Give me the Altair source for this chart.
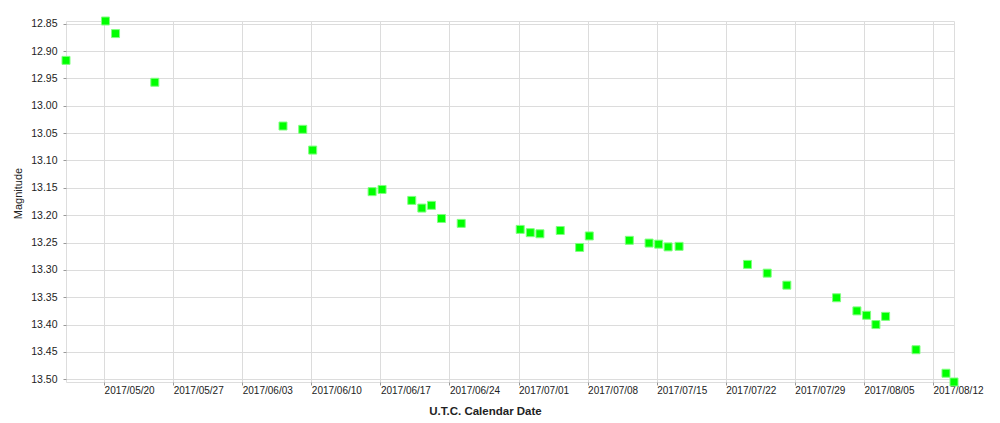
import altair as alt
import pandas as pd

dates = [
    "2017-05-16T03:20:00Z", "2017-05-20T03:20:00Z", "2017-05-21T03:50:00Z", "2017-05-25T03:20:00Z",
    "2017-06-07T03:10:00Z", "2017-06-09T03:10:00Z", "2017-06-10T03:20:00Z", "2017-06-16T03:50:00Z",
    "2017-06-17T04:05:00Z", "2017-06-20T04:20:00Z", "2017-06-21T04:50:00Z", "2017-06-22T04:20:00Z",
    "2017-06-23T04:35:00Z", "2017-06-25T04:35:00Z", "2017-07-01T04:05:00Z", "2017-07-02T04:35:00Z",
    "2017-07-03T04:05:00Z", "2017-07-05T05:30:00Z", "2017-07-07T04:35:00Z", "2017-07-08T04:05:00Z",
    "2017-07-12T05:30:00Z", "2017-07-14T05:30:00Z", "2017-07-15T04:50:00Z", "2017-07-16T03:50:00Z",
    "2017-07-17T06:30:00Z", "2017-07-24T04:50:00Z", "2017-07-26T04:50:00Z", "2017-07-28T04:35:00Z",
    "2017-08-02T05:30:00Z", "2017-08-04T07:00:00Z", "2017-08-05T06:30:00Z", "2017-08-06T05:15:00Z",
    "2017-08-07T04:50:00Z", "2017-08-10T06:45:00Z", "2017-08-13T07:40:00Z", "2017-08-14T03:10:00Z",
]
magnitudes = [
    12.917, 12.845, 12.868, 12.957,
    13.037, 13.043, 13.081, 13.157,
    13.153, 13.173, 13.187, 13.182,
    13.206, 13.215, 13.226, 13.232,
    13.234, 13.228, 13.259, 13.238,
    13.246, 13.251, 13.253, 13.258,
    13.257, 13.290, 13.306, 13.328,
    13.351, 13.375, 13.383, 13.400,
    13.385, 13.446, 13.489, 13.505,
]

# Axis tick values
x_tick_days = [(5, 20), (5, 27), (6, 3), (6, 10), (6, 17), (6, 24), (7, 1),
               (7, 8), (7, 15), (7, 22), (7, 29), (8, 5), (8, 12)]
y_ticks = [12.85, 12.90, 12.95, 13.00, 13.05, 13.10, 13.15, 13.20,
           13.25, 13.30, 13.35, 13.40, 13.45, 13.50]
y_domain = [12.845, 13.505]

df = pd.DataFrame({"date": dates, "mag": magnitudes})

FONT = "Liberation Sans"

x_values = [alt.DateTime(year=2017, month=m, date=d, utc=True) for m, d in x_tick_days]

chart = alt.Chart(df).mark_square(
    size=64, filled=True, fill="#00ff00", stroke="#80ff80", strokeWidth=1, opacity=1
).encode(
    x=alt.X(
        "date:T",
        scale=alt.Scale(type="utc", nice=False),
        axis=alt.Axis(
            values=x_values,
            format="%Y/%m/%d",
            formatType="time",
            title="U.T.C. Calendar Date",
            labelAlign="left",
            labelBaseline="top",
            labelFont=FONT,
            labelFontSize=10,
            labelColor="#222222",
            labelPadding=0,
            labelOverlap=False,
            labelFlush=False,
            tickSize=3,
            tickColor="#999999",
            domain=False,
            grid=True,
            gridColor="#dcdcdc",
            gridWidth=1,
            titleFont=FONT,
            titleFontSize=11.5,
            titleFontWeight="bold",
            titleColor="#222222",
            titleAlign="center",
            titleBaseline="alphabetic",
            titleX=419,
            titleY=32,
        ),
    ),
    y=alt.Y(
        "mag:Q",
        scale=alt.Scale(domain=y_domain, reverse=True, nice=False, zero=False),
        axis=alt.Axis(
            values=y_ticks,
            format=".2f",
            title="Magnitude",
            labelFont=FONT,
            labelFontSize=10.5,
            labelColor="#222222",
            labelPadding=6,
            tickSize=3,
            tickColor="#999999",
            domain=False,
            grid=True,
            gridColor="#dcdcdc",
            gridWidth=1,
            titleFont=FONT,
            titleFontSize=11,
            titleFontWeight="normal",
            titleColor="#222222",
            titleAngle=270,
            titleAlign="center",
            titleBaseline="middle",
            titleX=-48,
            titleY=172,
        ),
    ),
).properties(
    width=888,
    height=361,
    autosize=alt.AutoSizeParams(type="none"),
    padding={"left": 58, "top": 13, "right": 32, "bottom": 33},
).configure_view(
    stroke="#a0a0a0", strokeWidth=1
).configure(background="white")

chart.save("out.html", embed_options={"renderer": "svg", "actions": False})
